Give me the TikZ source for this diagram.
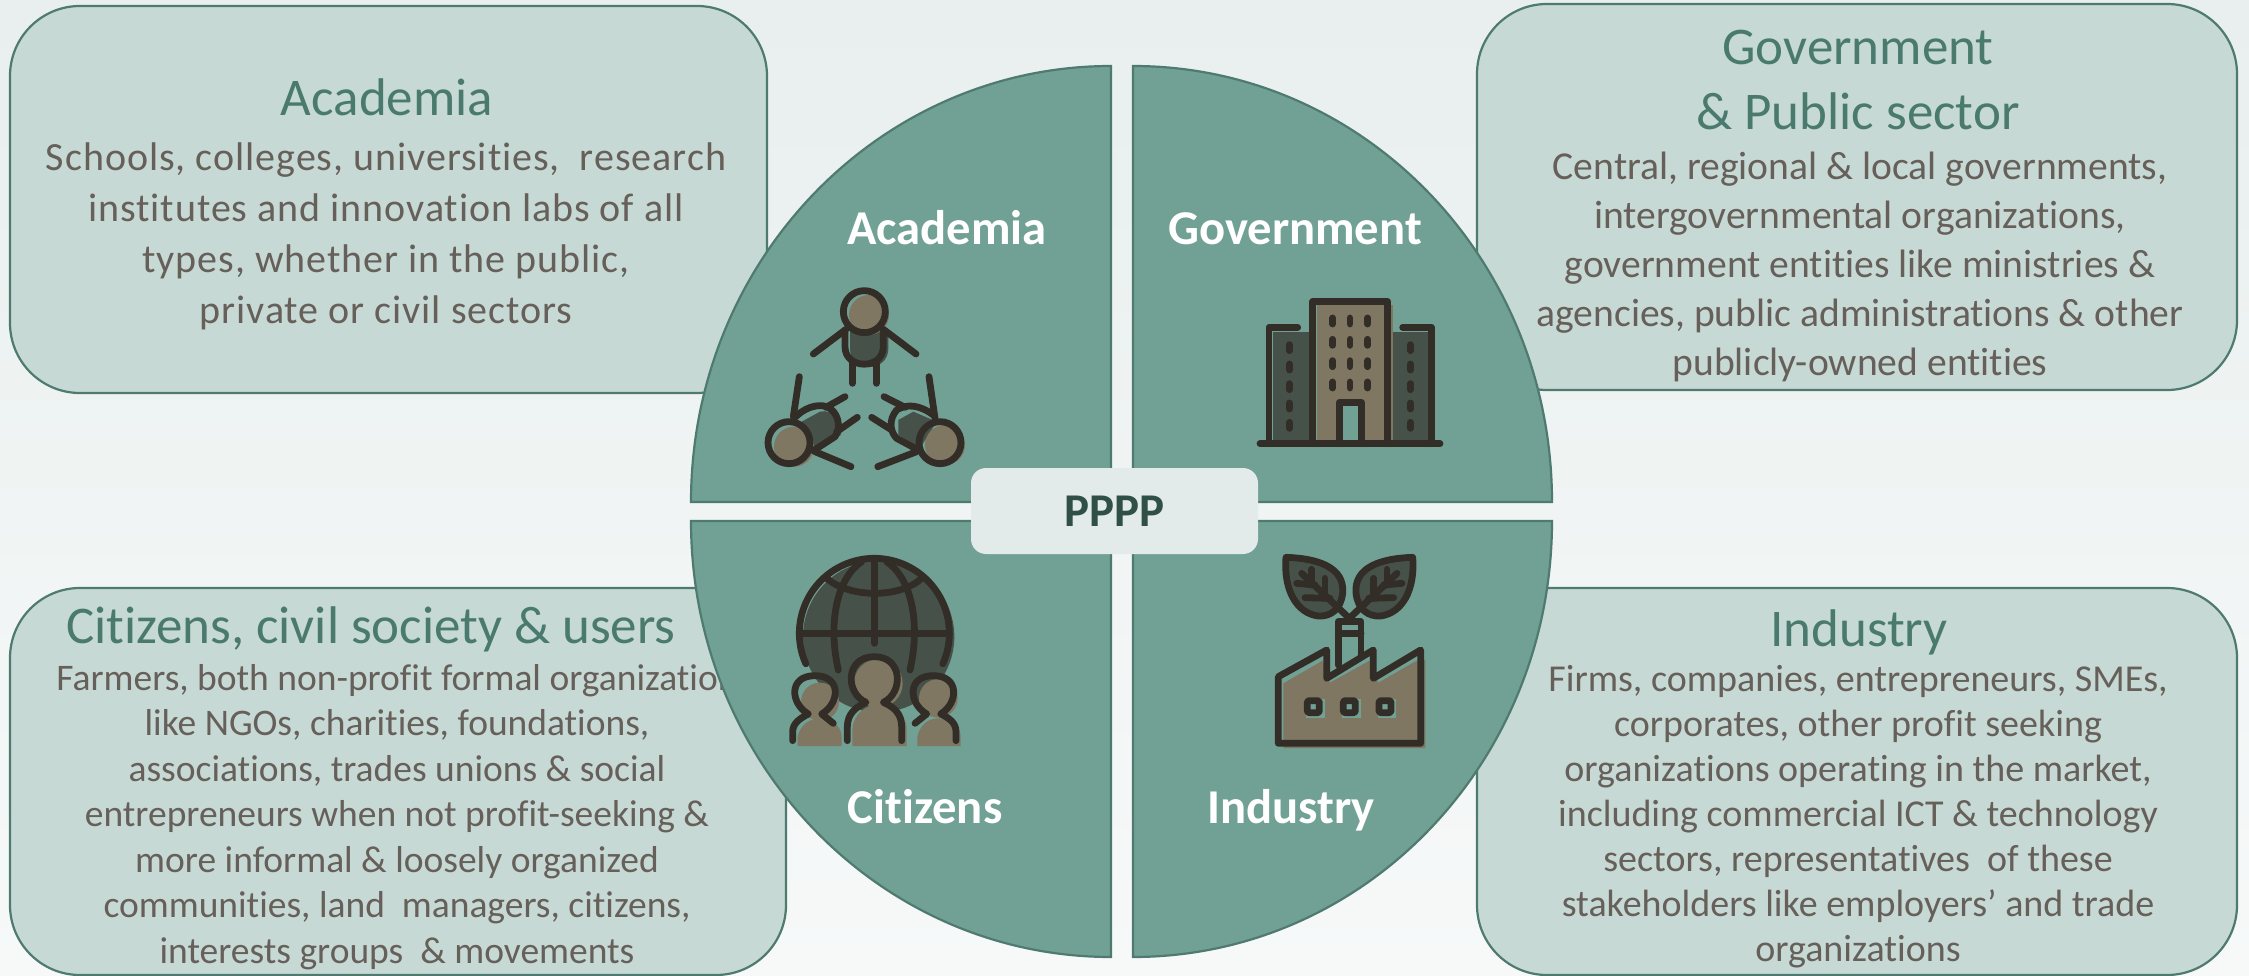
\documentclass[tikz,border=0pt]{standalone}
\usepackage{fontspec}
\setmainfont{Carlito}[Ligatures=NoCommon]
\newfontfamily\spacedfont{Carlito}[LetterSpace=2.4,Ligatures=NoCommon]
\definecolor{bgtop}{HTML}{E8EFEE}
\definecolor{bgbottom}{HTML}{F7F9F9}
\definecolor{quadfill}{HTML}{71A095}
\definecolor{quadline}{HTML}{4F7A70}
\definecolor{boxfill}{HTML}{C6D9D5}
\definecolor{titlecol}{HTML}{4A7A6E}
\definecolor{bodycol}{HTML}{665F5A}
\definecolor{icondark}{HTML}{332D28}
\definecolor{icontan}{HTML}{7F7761}
\definecolor{icongreen}{HTML}{465249}
\definecolor{centerfill}{HTML}{E2EBEA}
\definecolor{centertext}{HTML}{2F4F47}
\tikzset{
  infobox/.style={draw=quadline,fill=boxfill,line width=2.2pt,rounded corners=70pt},
  quad/.style={draw=quadline,fill=quadfill,line width=2.2pt},
  boxtitle/.style={text=titlecol,align=center,inner sep=0pt,font=\fontsize{53}{64.5}\selectfont},
  boxbody/.style={text=bodycol,align=center,inner sep=0pt},
  quadlabel/.style={text=white,inner sep=0pt,anchor=base,font=\fontsize{48.6}{54}\selectfont\bfseries},
  iconline/.style={draw=icondark,line width=6.8pt,line cap=round,line join=round,fill=none},
  icontanfill/.style={fill=icontan,draw=none},
  icongreenfill/.style={fill=icongreen,draw=none},
  iconscope/.style={x=0.33333pt,y=-0.33333pt}
}
\begin{document}
\begin{tikzpicture}[x=1pt,y=-1pt]
\useasboundingbox (0,0) rectangle (2249,976);
\shade[top color=bgtop,bottom color=bgbottom] (0,0) rectangle (2249,976);
% info boxes
\draw[infobox] (10,6) rectangle (767,393);
\draw[infobox] (1477,4) rectangle (2237,390);
\draw[infobox] (10,588) rectangle (786,975);
\draw[infobox] (1477,588) rectangle (2237,975);
% box texts
\node[boxtitle] (t1) at (387,97) {Academia};
\node[boxbody,font=\fontsize{40}{51}\selectfont\spacedfont] (b1) at (386,236) {Schools, colleges, universities,\ \ research\\institutes and innovation labs of all\\types, whether in the public,\\private or civil sectors};
\node[boxtitle] (t2) at (1858,80) {Government\\\& Public sector};
\node[boxbody,font=\fontsize{39.6}{49}\selectfont] (b2) at (1860,267) {Central, regional \& local governments,\\intergovernmental organizations,\\government entities like ministries \&\\agencies, public administrations \& other\\publicly-owned entities};
\node[boxtitle] (t3) at (371,629) {Citizens, civil society \& users};
\node[boxbody,font=\fontsize{37.5}{45.5}\selectfont] (b3) at (397,817) {Farmers, both non-profit formal organization\\like NGOs, charities, foundations,\\associations, trades unions \& social\\entrepreneurs when not profit-seeking \&\\more informal \& loosely organized\\communities, land\ \ managers, citizens,\\interests groups\ \ \& movements};
\node[boxtitle] (t4) at (1859,632) {Industry};
\node[boxbody,font=\fontsize{38}{45}\selectfont] (b4) at (1858,817) {Firms, companies, entrepreneurs, SMEs,\\corporates, other profit seeking\\organizations operating in the market,\\including commercial ICT \& technology\\sectors, representatives\ \ of these\\stakeholders like employers’ and trade\\organizations};
% quadrants
\draw[quad] (1111,502) -- (1111,66) .. controls (879,66) and (691,261) .. (691,502) -- cycle;
\draw[quad] (1133,502) -- (1133,66) .. controls (1365,66) and (1552,261) .. (1552,502) -- cycle;
\draw[quad] (1111,521) -- (1111,957) .. controls (879,957) and (691,762) .. (691,521) -- cycle;
\draw[quad] (1133,521) -- (1133,957) .. controls (1365,957) and (1552,762) .. (1552,521) -- cycle;
% centre
\node[fill=centerfill,rounded corners=15pt,minimum width=287pt,minimum height=86pt,inner sep=0pt,text=centertext,font=\fontsize{47}{52}\selectfont\bfseries] (ctr) at (1114.5,511) {\raisebox{-3pt}{PPPP}};
% quadrant labels
\node[quadlabel] (q1) at (947,245) {Academia};
\node[quadlabel] (q2) at (1295,245) {Government};
\node[quadlabel] (q3) at (925,823) {Citizens};
\node[quadlabel] (q4) at (1291,823) {Industry};
% --- icon: academia
\begin{scope}[shift={(720,200)},iconscope]
\fill[icongreenfill] (390,395) -- (505,395) -- (505,445) .. controls (505,520) and (390,520) .. (390,445) -- cycle;
\fill[icontanfill] (447,345) circle[radius=60];
\draw[iconline] (433,335) circle[radius=63];
\draw[iconline] (375,390) -- (375,440) .. controls (375,510) and (490,510) .. (490,440) -- (490,390);
\draw[iconline] (378,388) -- (280,462);
\draw[iconline] (490,388) -- (588,462);
\draw[iconline] (397,490) -- (397,550);
\draw[iconline] (469,490) -- (469,550);
% left
\fill[icongreenfill] (245,665) -- (300,635) .. controls (340,625) and (375,670) .. (362,705) -- (295,752) -- (250,740) -- cycle;
\fill[icontanfill] (222,740) circle[radius=60];
\draw[iconline] (207,728) circle[radius=63];
\draw[iconline] (222,655) .. controls (250,625) and (290,610) .. (320,620) .. controls (355,635) and (365,680) .. (345,710) -- (280,752);
\draw[iconline] (220,650) -- (238,530);
\draw[iconline] (285,755) -- (393,800);
\draw[iconline] (318,622) -- (375,590);
\draw[iconline] (350,695) -- (412,652);
% right
\fill[icongreenfill] (535,660) -- (580,635) -- (650,665) -- (600,745) -- (535,705) -- cycle;
\fill[icontanfill] (675,735) circle[radius=60];
\draw[iconline] (660,728) circle[radius=63];
\draw[iconline] (640,645) .. controls (600,615) and (560,610) .. (530,630) .. controls (505,660) and (510,695) .. (530,715) -- (595,750);
\draw[iconline] (645,655) -- (627,530);
\draw[iconline] (590,755) -- (473,800);
\draw[iconline] (555,622) -- (492,590);
\draw[iconline] (512,688) -- (455,652);
\end{scope}
% --- icon: government
\begin{scope}[shift={(1200,270)},iconscope]
\fill[icongreenfill] (218,185) rectangle (340,521);
\fill[icongreenfill] (570,185) rectangle (685,521);
\fill[icontanfill] (350,105) rectangle (580,531);
\fill[quadfill] (430,408) rectangle (473,512);
\draw[iconline] (180,521) -- (720,521);
\draw[iconline] (338,521) -- (338,95) -- (563,95) -- (563,521);
\draw[iconline] (207,521) -- (207,172) -- (293,172);
\draw[iconline] (695,521) -- (695,172) -- (608,172);
\draw[iconline] (418,521) -- (418,397) -- (484,397) -- (484,521);
\foreach \wx in {398,450,503}
  \foreach \wy in {153,217,281,345}
    \draw[iconline] (\wx,\wy-9) -- (\wx,\wy+9);
\foreach \wx in {268,631}
  \foreach \wy in {233,291,350,408,466}
    \draw[iconline] (\wx,\wy-9) -- (\wx,\wy+9);
\end{scope}
% --- icon: citizens
\begin{scope}[shift={(770,530)},iconscope]
\fill[icongreenfill] (326,320) circle[radius=227];
\draw[iconline] plot[domain=156:384,samples=50,smooth] ({313+225*cos(\x)},{310+225*sin(\x)});
\draw[iconline] (88,310) -- (538,310);
\draw[iconline] (313,90) -- (313,340);
\draw[iconline] (205,420) .. controls (175,290) and (195,150) .. (275,95);
\draw[iconline] (420,420) .. controls (450,290) and (430,150) .. (350,95);
\draw[iconline] (170,145) .. controls (240,205) and (390,205) .. (455,145);
% tan people
\fill[icontanfill] (325,460) circle[radius=73];
\fill[icontanfill] (247,648) -- (247,600) .. controls (250,550) and (290,522) .. (330,522) .. controls (370,522) and (410,550) .. (410,600) -- (410,648) -- cycle;
\fill[icontanfill] (150,515) circle[radius=57];
\fill[icontanfill] (83,648) -- (83,620) .. controls (90,585) and (120,565) .. (150,565) .. controls (185,565) and (215,590) .. (215,620) -- (215,648) -- cycle;
\fill[icontanfill] (505,505) circle[radius=58];
\fill[icontanfill] (442,648) -- (442,620) .. controls (450,585) and (475,565) .. (505,565) .. controls (540,565) and (572,590) .. (572,620) -- (572,648) -- cycle;
% outlines
\draw[iconline] (232,632) -- (232,590) .. controls (232,550) and (260,530) .. (288,517) .. controls (225,490) and (225,380) .. (313,380) .. controls (400,380) and (400,490) .. (340,517) .. controls (370,530) and (395,550) .. (395,590) -- (395,632);
\draw[iconline] (68,632) -- (68,605) .. controls (68,580) and (90,565) .. (115,552) .. controls (60,520) and (55,437) .. (135,437) .. controls (215,437) and (210,520) .. (155,552) -- (190,580);
\draw[iconline] (435,580) -- (470,552) .. controls (415,520) and (410,437) .. (490,437) .. controls (570,437) and (565,520) .. (512,552) .. controls (540,565) and (558,580) .. (558,605) -- (558,632);
\end{scope}
% --- icon: industry
\begin{scope}[shift={(1250,530)},iconscope]
\fill[icontanfill] (100,460) -- (218,392) -- (240,458) -- (358,392) -- (385,458) -- (500,392) -- (526,390) -- (526,654) -- (100,654) -- cycle;
\draw[iconline] (85,640) -- (85,440) -- (230,360) -- (230,445) -- (370,360) -- (370,445) -- (512,360) -- (512,640) -- cycle;
\draw[iconline] (265,405) -- (265,275) -- (333,275) -- (333,375);
\draw[iconline] (265,310) -- (333,310);
\foreach \wx in {190,298,405} {
  \fill[quadfill] (\wx-22,508) rectangle (\wx+34,564);
  \draw[iconline,rounded corners=2pt] (\wx-18,512) rectangle (\wx+18,548);
}
\fill[icongreenfill] (113,88) .. controls (205,91) and (290,116) .. (283,196) .. controls (277,246) and (245,266) .. (210,264) .. controls (145,256) and (105,186) .. (113,88) -- cycle;
\fill[icongreenfill] (493,88) .. controls (401,91) and (316,116) .. (323,196) .. controls (329,246) and (361,266) .. (396,264) .. controls (461,256) and (501,186) .. (493,88) -- cycle;
\draw[iconline] (108,82) .. controls (200,85) and (285,110) .. (278,190) .. controls (272,240) and (240,260) .. (205,258) .. controls (140,250) and (100,180) .. (108,82) -- cycle;
\draw[iconline] (488,82) .. controls (396,85) and (311,110) .. (318,190) .. controls (324,240) and (356,260) .. (391,258) .. controls (456,250) and (496,180) .. (488,82) -- cycle;
\draw[iconline] (295,262) -- (155,130);
\draw[iconline] (185,118) -- (185,165);
\draw[iconline] (225,145) -- (225,205);
\draw[iconline] (140,160) -- (195,165);
\draw[iconline] (165,203) -- (240,205);
\draw[iconline] (301,262) -- (441,130);
\draw[iconline] (411,118) -- (411,165);
\draw[iconline] (371,145) -- (371,205);
\draw[iconline] (456,160) -- (401,165);
\draw[iconline] (431,203) -- (356,205);
\end{scope}
\end{tikzpicture}
\end{document}
